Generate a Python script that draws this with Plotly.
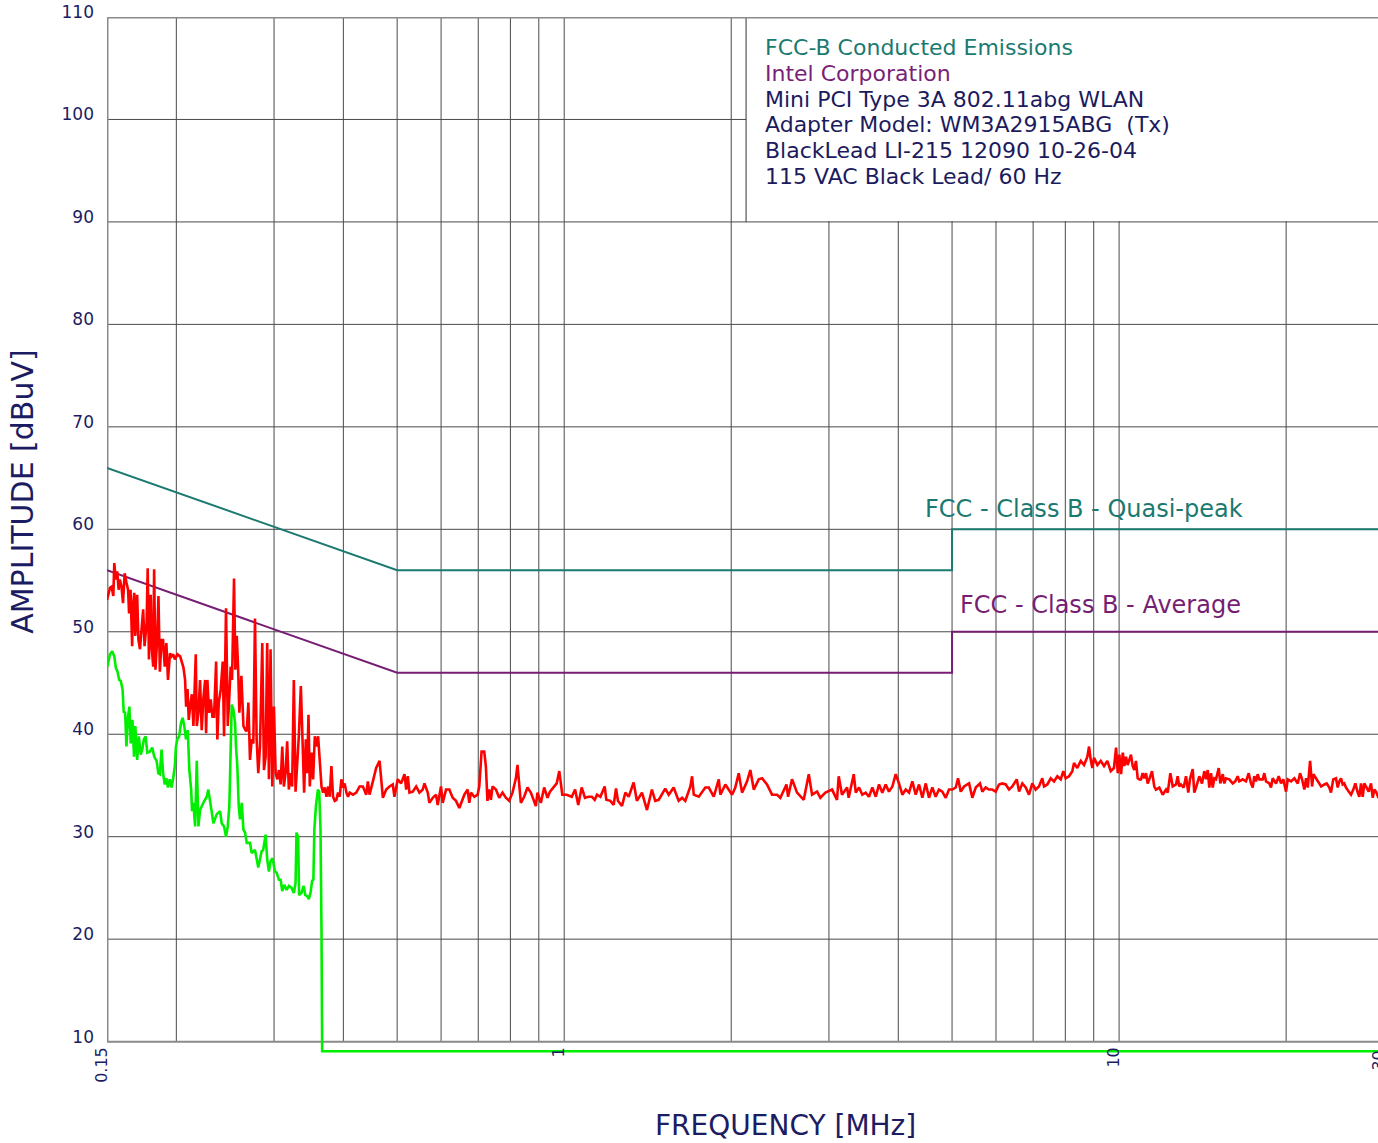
import math
import plotly.graph_objects as go

# ---------------- data ----------------
# Peak (red) scan
peak_freq_mhz = [
    0.1500, 0.1519, 0.1529, 0.1540, 0.1546, 0.1556, 0.1565, 0.1574, 0.1582, 0.1593,
    0.1603, 0.1614, 0.1626, 0.1637, 0.1644, 0.1654, 0.1665, 0.1671, 0.1680, 0.1687,
    0.1700, 0.1709, 0.1720, 0.1732, 0.1743, 0.1753, 0.1768, 0.1776, 0.1785, 0.1798,
    0.1807, 0.1817, 0.1824, 0.1834, 0.1847, 0.1857, 0.1868, 0.1881, 0.1893, 0.1906,
    0.1919, 0.1932, 0.1948, 0.1961, 0.1974, 0.1988, 0.2009, 0.2032, 0.2046, 0.2060,
    0.2074, 0.2083, 0.2095, 0.2106, 0.2118, 0.2133, 0.2147, 0.2168, 0.2177, 0.2192,
    0.2207, 0.2222, 0.2237, 0.2254, 0.2263, 0.2275, 0.2291, 0.2307, 0.2323, 0.2339,
    0.2359, 0.2371, 0.2385, 0.2405, 0.2425, 0.2438, 0.2458, 0.2476, 0.2492, 0.2506,
    0.2520, 0.2541, 0.2555, 0.2570, 0.2584, 0.2598, 0.2620, 0.2642, 0.2664, 0.2679,
    0.2697, 0.2715, 0.2734, 0.2753, 0.2772, 0.2791, 0.2810, 0.2830, 0.2857, 0.2877,
    0.2897, 0.2916, 0.2937, 0.2957, 0.2978, 0.2999, 0.3020, 0.3041, 0.3062, 0.3083,
    0.3104, 0.3125, 0.3147, 0.3168, 0.3190, 0.3213, 0.3234, 0.3257, 0.3280, 0.3302,
    0.3325, 0.3353, 0.3376, 0.3399, 0.3423, 0.3441, 0.3461, 0.3480, 0.3505, 0.3528,
    0.3553, 0.3578, 0.3602, 0.3627, 0.3653, 0.3677, 0.3703, 0.3729, 0.3754, 0.3780,
    0.3806, 0.3832, 0.3859, 0.3886, 0.3912, 0.3940, 0.3967, 0.3994, 0.4022, 0.4051,
    0.4078, 0.4106, 0.4163, 0.4220, 0.4279, 0.4338, 0.4398, 0.4428, 0.4459, 0.4521,
    0.4583, 0.4648, 0.4680, 0.4713, 0.4778, 0.4843, 0.4910, 0.4944, 0.5013, 0.5084,
    0.5155, 0.5191, 0.5226, 0.5262, 0.5335, 0.5410, 0.5484, 0.5560, 0.5600, 0.5677,
    0.5716, 0.5796, 0.5876, 0.5916, 0.5998, 0.6040, 0.6124, 0.6209, 0.6295, 0.6383,
    0.6472, 0.6562, 0.6608, 0.6699, 0.6745, 0.6792, 0.6887, 0.6982, 0.7030, 0.7097,
    0.7176, 0.7225, 0.7273, 0.7327, 0.7377, 0.7429, 0.7533, 0.7637, 0.7742, 0.7850,
    0.7959, 0.8070, 0.8183, 0.8238, 0.8296, 0.8355, 0.8470, 0.8587, 0.8708, 0.8828,
    0.8891, 0.8951, 0.9077, 0.9203, 0.9331, 0.9428, 0.9558, 0.9694, 0.9799, 0.9856,
    0.9922, 1.0106, 1.0320, 1.0463, 1.0601, 1.0752, 1.0900, 1.1049, 1.1216, 1.135,
    1.146, 1.162, 1.183, 1.191, 1.211, 1.228, 1.240, 1.250, 1.271, 1.289,
    1.307, 1.334, 1.352, 1.381, 1.410, 1.439, 1.459, 1.480, 1.521, 1.543,
    1.575, 1.608, 1.631, 1.653, 1.688, 1.700, 1.712, 1.748, 1.796, 1.822,
    1.860, 1.899, 1.912, 1.952, 2.007, 2.034, 2.063, 2.092, 2.136, 2.165,
    2.196, 2.242, 2.273, 2.320, 2.369, 2.419, 2.452, 2.515, 2.532, 2.574,
    2.628, 2.702, 2.759, 2.797, 2.856, 2.895, 2.956, 3.039, 3.102, 3.124,
    3.167, 3.234, 3.256, 3.325, 3.353, 3.399, 3.445, 3.494, 3.542, 3.592,
    3.643, 3.693, 3.744, 3.796, 3.848, 3.903, 3.958, 4.012, 4.068, 4.126,
    4.183, 4.240, 4.300, 4.360, 4.420, 4.483, 4.544, 4.607, 4.671, 4.735,
    4.802, 4.870, 4.937, 5.006, 5.077, 5.126, 5.184, 5.256, 5.366, 5.439,
    5.516, 5.615, 5.669, 5.748, 5.827, 5.909, 5.993, 6.076, 6.160, 6.248,
    6.334, 6.420, 6.540, 6.603, 6.693, 6.788, 6.881, 6.976, 7.073, 7.170,
    7.271, 7.323, 7.424, 7.530, 7.634, 7.739, 7.849, 7.933, 8.013, 8.123,
    8.236, 8.294, 8.408, 8.528, 8.646, 8.766, 8.828, 8.890, 8.949, 9.013,
    9.137, 9.267, 9.395, 9.525, 9.659, 9.789, 9.875, 9.945, 10.012, 10.082,
    10.154, 10.221, 10.289, 10.362, 10.431, 10.504, 10.579, 10.651, 10.725, 10.802,
    10.873, 10.951, 11.028, 11.101, 11.180, 11.260, 11.335, 11.462, 11.573, 11.654,
    11.816, 11.983, 12.149, 12.235, 12.370, 12.492, 12.665, 12.752, 12.837, 12.927,
    13.075, 13.199, 13.325, 13.418, 13.572, 13.662, 13.759, 13.949, 14.106, 14.242,
    14.343, 14.445, 14.541, 14.643, 14.747, 14.846, 14.951, 15.119, 15.220, 15.374,
    15.476, 15.581, 15.797, 16.020, 16.195, 16.358, 16.466, 16.701, 16.930, 17.122,
    17.287, 17.410, 17.525, 17.649, 17.774, 17.893, 18.146, 18.268, 18.398, 18.653,
    18.783, 18.917, 19.179, 19.394, 19.580, 19.767, 19.992, 20.135, 20.413, 20.693,
    20.989, 21.190, 21.366, 21.572, 21.724, 21.879, 22.091, 22.275, 22.398, 22.652,
    22.906, 23.127, 23.440, 23.663, 23.922, 24.090, 24.319, 24.597, 24.772, 24.935,
    25.113, 25.291, 25.459, 25.639, 25.930, 26.179, 26.430, 26.651, 26.917, 27.097,
    27.287, 27.480, 27.665, 27.944, 28.174, 28.445, 28.648, 28.839, 29.039, 29.280,
    30.0,
]
peak_level_dbuv = [
    53.1, 54.3, 54.4, 53.5, 56.7, 55.1, 55.9, 54.1, 55.1, 54.4,
    52.8, 55.7, 54.8, 54.1, 51.8, 54.1, 48.6, 52.5, 53.8, 49.6,
    53.6, 49.2, 48.3, 50.5, 52.2, 48.6, 50.9, 56.2, 47.3, 53.6,
    48.3, 46.6, 56.1, 46.3, 49.2, 53.5, 46.1, 49.2, 49.2, 46.6,
    48.9, 45.3, 47.9, 47.6, 47.8, 47.3, 47.8, 47.6, 47.1, 46.5,
    45.3, 42.7, 44.4, 41.4, 42.7, 43.9, 40.8, 47.8, 40.8, 42.1,
    45.3, 40.4, 43.4, 45.3, 40.1, 45.3, 42.1, 43.4, 41.7, 41.7,
    47.1, 39.5, 43.1, 44.4, 47.1, 39.8, 52.3, 40.8, 43.7, 46.6,
    45.3, 55.2, 46.3, 49.6, 46.6, 42.1, 45.7, 40.8, 40.4, 40.3,
    43.1, 37.5, 39.5, 39.1, 51.3, 39.5, 36.2, 38.8, 48.9, 36.5,
    37.8, 48.9, 35.6, 48.3, 34.9, 42.7, 36.2, 35.6, 36.5, 35.1,
    38.8, 34.9, 36.2, 39.3, 34.6, 36.2, 34.9, 45.3, 34.4, 37.2,
    39.8, 44.7, 38.2, 34.3, 39.5, 36.2, 41.9, 34.9, 38.2, 35.6,
    39.8, 38.8, 39.8, 37.8, 34.9, 34.3, 34.8, 33.9, 34.9, 33.9,
    36.9, 33.9, 33.5, 33.6, 34.3, 33.9, 35.6, 34.8, 35.2, 34.3,
    33.9, 34.3, 34.1, 34.3, 34.9, 34.9, 34.1, 35.4, 34.1, 35.4,
    36.7, 37.4, 35.6, 33.8, 34.6, 34.9, 35.1, 33.9, 35.6, 35.2,
    36.1, 34.6, 35.9, 34.3, 34.4, 34.9, 34.3, 34.6, 35.2, 34.3,
    33.3, 33.8, 34.1, 33.1, 34.9, 33.3, 34.6, 34.6, 33.8, 33.5,
    32.8, 33.6, 34.1, 34.6, 33.3, 34.3, 33.9, 34.1, 34.9, 38.3,
    38.3, 36.9, 33.5, 34.6, 33.6, 34.9, 34.6, 33.8, 34.3, 33.8,
    33.5, 34.3, 35.7, 37.0, 35.2, 33.3, 33.9, 34.8, 34.3, 33.5,
    33.0, 34.3, 33.3, 34.8, 33.8, 34.4, 34.8, 35.2, 36.4, 35.2,
    34.1, 34.1, 33.9, 34.6, 33.1, 34.8, 33.8, 33.9, 33.9, 33.6,
    34.1, 33.9, 34.9, 33.6, 33.5, 33.1, 34.7, 33.5, 33.0, 34.3,
    33.9, 35.3, 33.5, 34.3, 32.6, 34.6, 33.5, 33.6, 34.7, 34.1,
    34.8, 33.5, 33.8, 33.5, 34.9, 35.9, 34.1, 33.9, 34.8, 34.8,
    33.9, 35.6, 34.1, 35.1, 34.1, 34.8, 36.2, 34.3, 35.4, 36.5,
    34.6, 35.6, 35.7, 35.1, 34.1, 34.1, 33.8, 35.1, 33.9, 35.6,
    34.3, 33.6, 36.1, 34.1, 34.4, 33.8, 34.3, 34.6, 33.6, 35.9,
    34.1, 34.8, 33.8, 36.1, 34.3, 34.8, 34.1, 34.3, 33.9, 34.8,
    33.9, 35.1, 34.3, 35.1, 34.4, 34.9, 36.1, 35.2, 34.1, 34.6,
    34.3, 35.4, 34.1, 35.1, 33.8, 35.2, 33.8, 34.8, 33.9, 34.6,
    34.4, 33.8, 34.6, 34.6, 34.8, 35.7, 34.4, 34.9, 35.2, 33.8,
    34.8, 35.2, 34.4, 34.8, 34.6, 34.6, 34.4, 35.1, 35.2, 35.1,
    34.6, 34.9, 35.6, 34.4, 35.2, 34.8, 34.1, 35.2, 34.6, 34.9,
    35.7, 34.9, 35.1, 35.7, 35.4, 35.9, 35.6, 36.4, 35.7, 35.9,
    36.4, 37.2, 36.7, 37.4, 37.0, 37.8, 38.8, 37.5, 36.7, 37.7,
    37.0, 37.4, 36.9, 37.4, 36.4, 36.7, 38.7, 36.2, 38.0, 36.1,
    38.2, 36.9, 37.8, 37.0, 37.4, 38.0, 36.9, 36.5, 37.4, 35.7,
    35.6, 35.6, 36.2, 35.7, 36.2, 35.2, 35.6, 36.4, 34.9, 34.6,
    34.8, 34.1, 34.6, 34.3, 36.2, 34.9, 35.1, 35.9, 34.9, 35.1,
    34.8, 35.9, 34.3, 35.6, 36.6, 34.3, 34.8, 35.9, 35.2, 36.4,
    35.6, 36.5, 34.8, 36.2, 34.8, 35.7, 35.6, 36.7, 35.2, 36.1,
    35.2, 35.7, 35.6, 35.2, 35.4, 35.9, 35.4, 35.6, 35.4, 36.2,
    35.2, 34.8, 35.9, 35.4, 36.1, 35.6, 35.6, 36.2, 35.4, 35.2,
    34.8, 35.7, 35.2, 35.9, 35.2, 35.6, 34.4, 35.6, 35.4, 35.7,
    35.2, 36.2, 35.6, 34.6, 35.7, 34.8, 37.4, 34.9, 36.1, 35.7,
    35.2, 34.9, 35.1, 35.2, 34.8, 34.3, 35.6, 35.7, 34.8, 35.4,
    35.7, 35.1, 35.2, 34.8, 34.4, 34.1, 34.6, 35.2, 34.3, 33.9,
    35.2, 33.9, 35.2, 34.8, 34.4, 35.2, 33.8, 34.6, 34.4, 33.9,
    34.2,
]

# Average (green) scan
avg_freq_mhz = [
    0.1502, 0.1519, 0.1533, 0.1546, 0.1556, 0.1567, 0.1578, 0.1588, 0.1600, 0.1608,
    0.1617, 0.1626, 0.1637, 0.1646, 0.1655, 0.1667, 0.1678, 0.1687, 0.1700, 0.1712,
    0.1725, 0.1736, 0.1748, 0.1761, 0.1773, 0.1792, 0.1810, 0.1825, 0.1843, 0.1856,
    0.1868, 0.1881, 0.1893, 0.1906, 0.1919, 0.1932, 0.1946, 0.1961, 0.1974, 0.1988,
    0.1996, 0.2008, 0.2024, 0.2039, 0.2053, 0.2067, 0.2082, 0.2097, 0.2111, 0.2127,
    0.2135, 0.2147, 0.2162, 0.2177, 0.2192, 0.2207, 0.2237, 0.2269, 0.2284, 0.2301,
    0.2333, 0.2365, 0.2398, 0.2415, 0.2438, 0.2458, 0.2476, 0.2492, 0.2506, 0.2517,
    0.2534, 0.2552, 0.2562, 0.2576, 0.2591, 0.2605, 0.2624, 0.2642, 0.2660, 0.2679,
    0.2715, 0.2734, 0.2772, 0.2810, 0.2850, 0.2868, 0.2897, 0.2916, 0.2937, 0.2957,
    0.2982, 0.3011, 0.3032, 0.3062, 0.3083, 0.3104, 0.3130, 0.3161, 0.3191, 0.3227,
    0.3257, 0.3280, 0.3293, 0.3315, 0.3329, 0.3361, 0.3392, 0.3416, 0.3443, 0.3466,
    0.3490, 0.3514, 0.3532, 0.3546, 0.3570, 0.3599, 0.3618, 0.3638, 0.3653, 0.3663,
    30.0,
]
avg_level_dbuv = [
    46.6, 47.8, 48.1, 47.6, 46.5, 46.1, 45.3, 45.2, 44.4, 42.1,
    42.2, 38.8, 41.7, 42.7, 39.1, 41.4, 37.8, 40.8, 37.5, 39.8,
    38.0, 38.5, 39.5, 39.8, 38.2, 38.3, 38.7, 37.8, 37.4, 36.2,
    36.1, 38.5, 36.2, 35.1, 35.7, 34.8, 35.6, 34.8, 35.7, 36.9,
    38.7, 39.5, 39.8, 41.1, 41.6, 40.8, 39.5, 40.4, 36.5, 34.6,
    32.5, 33.3, 31.0, 37.4, 31.0, 32.6, 33.3, 33.9, 34.6, 33.3,
    31.3, 32.2, 32.5, 31.3, 31.0, 30.0, 31.0, 33.0, 40.1, 42.9,
    42.4, 41.1, 38.8, 36.9, 33.0, 31.7, 33.3, 30.7, 30.4, 29.4,
    29.4, 28.4, 28.7, 27.0, 28.6, 28.7, 30.2, 27.8, 26.6, 27.6,
    27.9, 26.6, 26.5, 25.8, 25.8, 24.7, 25.3, 24.8, 25.2, 25.0,
    24.5, 25.5, 30.4, 30.0, 24.3, 24.5, 25.2, 24.3, 24.2, 23.9,
    24.5, 25.7, 25.8, 30.7, 33.0, 34.6, 34.4, 30.7, 20.9, 9.06,
    9.06,
]

# FCC Class B limit lines
qp_limit_freq_mhz = [0.15, 0.5, 5.0, 5.0, 30.0]
qp_limit_dbuv = [66.0, 56.0, 56.0, 60.0, 60.0]
avg_limit_freq_mhz = [0.15, 0.5, 5.0, 5.0, 30.0]
avg_limit_dbuv = [56.0, 46.0, 46.0, 50.0, 50.0]

# axis ticks / grid
y_tick_values = [10, 20, 30, 40, 50, 60, 70, 80, 90, 100, 110]
x_grid_values = [0.15, 0.2, 0.3, 0.4, 0.5, 0.6, 0.7, 0.8, 0.9,
                 1, 2, 3, 4, 5, 6, 7, 8, 9, 10, 20]
x_tick_labels = {0.15: "0.15", 1: "1", 10: "10"}

info_lines = [
    ("FCC-B Conducted Emissions", "#1b7a70"),
    ("Intel Corporation", "#7a1f78"),
    ("Mini PCI Type 3A 802.11abg WLAN", "#1b1b5e"),
    ("Adapter Model: WM3A2915ABG  (Tx)", "#1b1b5e"),
    ("BlackLead LI-215 12090 10-26-04", "#1b1b5e"),
    ("115 VAC Black Lead/ 60 Hz", "#1b1b5e"),
]

# ---------------- figure ----------------
FONT = "DejaVu Sans"
NAVY = "#1c1c62"
TEAL = "#1b7a70"
PURPLE = "#761e74"
GRID = "#4a4a4a"
FRAME = "#8a8a8a"

fig = go.Figure()

fig.add_trace(go.Scatter(x=qp_limit_freq_mhz, y=qp_limit_dbuv, mode="lines",
                         line=dict(color=TEAL, width=2), hoverinfo="skip",
                         showlegend=False))
fig.add_trace(go.Scatter(x=avg_limit_freq_mhz, y=avg_limit_dbuv, mode="lines",
                         line=dict(color=PURPLE, width=2), hoverinfo="skip",
                         showlegend=False))
fig.add_trace(go.Scatter(x=avg_freq_mhz, y=avg_level_dbuv, mode="lines",
                         line=dict(color="#00ee00", width=2.6), showlegend=False))
fig.add_trace(go.Scatter(x=peak_freq_mhz, y=peak_level_dbuv, mode="lines",
                         line=dict(color="#ff0000", width=2.6), showlegend=False))

X_MIN, X_MAX = 0.15, 29.28
Y_MIN = 8.5
Y_LOW, Y_HIGH = 10, 110
BOX_LEFT_MHZ = 2.127   # left edge of the information panel
X_FAR = 30.0

fig.update_xaxes(
    type="log",
    range=[math.log10(X_MIN), math.log10(X_MAX)],
    tickmode="array",
    tickvals=x_grid_values,
    ticktext=[x_tick_labels.get(v, "") for v in x_grid_values],
    tickangle=-90,
    ticks="",
    showgrid=False, zeroline=False, showline=False,
    tickfont=dict(family=FONT, size=16, color=NAVY),
    ticklabelstandoff=-14,
    ticklabelshift=-5,
)
fig.update_yaxes(
    range=[Y_MIN, Y_HIGH],
    tickmode="array",
    tickvals=y_tick_values,
    ticktext=[str(v) for v in y_tick_values],
    ticks="",
    showgrid=False, zeroline=False, showline=False,
    tickfont=dict(family=FONT, size=17, color=NAVY),
    ticklabelstandoff=12,
    ticklabelshift=-5,
    ticklabeloverflow="allow",
)

shapes = []
# grid drawn as shapes (all in data coordinates so they share one layer, drawn in order)
for v in x_grid_values[1:]:
    shapes.append(dict(type="line", xref="x", yref="y", x0=v, x1=v, y0=Y_LOW, y1=Y_HIGH,
                       line=dict(color=GRID, width=1), layer="below"))
for v in y_tick_values[1:-1]:
    shapes.append(dict(type="line", xref="x", yref="y", x0=X_MIN, x1=X_FAR, y0=v, y1=v,
                       line=dict(color=GRID, width=1), layer="below"))
# information panel (white, hides the grid behind the text)
shapes.append(dict(type="rect", xref="x", yref="y", x0=BOX_LEFT_MHZ, x1=X_FAR,
                   y0=90.1, y1=Y_HIGH + 1, fillcolor="white", line=dict(width=0),
                   layer="below"))
shapes.append(dict(type="line", xref="x", yref="y", x0=BOX_LEFT_MHZ, x1=BOX_LEFT_MHZ,
                   y0=90, y1=Y_HIGH, line=dict(color="#333333", width=1), layer="below"))
# frame
shapes.append(dict(type="line", xref="x", yref="y", x0=X_MIN, x1=X_MIN, y0=Y_LOW, y1=Y_HIGH,
                   line=dict(color=FRAME, width=3), layer="below"))
shapes.append(dict(type="line", xref="x", yref="y", x0=X_MIN, x1=X_FAR, y0=Y_LOW, y1=Y_LOW,
                   line=dict(color=FRAME, width=2), layer="below"))
shapes.append(dict(type="line", xref="x", yref="y", x0=X_MIN, x1=X_FAR, y0=Y_HIGH, y1=Y_HIGH,
                   line=dict(color=FRAME, width=3), layer="below"))

annotations = []
info_y = [0.9702, 0.9452, 0.9202, 0.8962, 0.8712, 0.8462]
for (txt, col), yy in zip(info_lines, info_y):
    annotations.append(dict(text=txt, xref="paper", yref="paper", x=0.5161, y=yy,
                            xanchor="left", yanchor="middle", showarrow=False,
                            font=dict(family=FONT, size=22, color=col)))

annotations += [
    dict(text="FCC - Class B - Quasi-peak", xref="paper", yref="paper",
         x=0.7687, y=0.5271, xanchor="center", yanchor="middle", showarrow=False,
         font=dict(family=FONT, size=24, color=TEAL)),
    dict(text="FCC - Class B - Average", xref="paper", yref="paper",
         x=0.7813, y=0.4348, xanchor="center", yanchor="middle", showarrow=False,
         font=dict(family=FONT, size=24, color=PURPLE)),
    dict(text="AMPLITUDE [dBuV]", xref="paper", yref="paper",
         x=-0.0661, y=0.5444, xanchor="center", yanchor="middle", showarrow=False,
         textangle=-90, font=dict(family=FONT, size=30, color=NAVY)),
    dict(text="FREQUENCY [MHz]", xref="paper", yref="paper",
         x=0.5342, y=-0.0659, xanchor="center", yanchor="middle", showarrow=False,
         font=dict(family=FONT, size=28, color=NAVY)),
    dict(text="30", xref="paper", yref="paper",
         x=1.0008, y=0.0081, xanchor="center", yanchor="top", showarrow=False,
         textangle=-90, font=dict(family=FONT, size=16, color=NAVY)),
]

fig.update_layout(
    width=1378, height=1143,
    margin=dict(l=107, r=0, t=17, b=86, autoexpand=False),
    paper_bgcolor="white", plot_bgcolor="white",
    shapes=shapes, annotations=annotations,
    showlegend=False,
)

# remove the browser's default 8 px page margin so the figure fills the window
fig.write_html("out.html", config={"displayModeBar": False},
               post_script="document.body.style.margin='0px';")
